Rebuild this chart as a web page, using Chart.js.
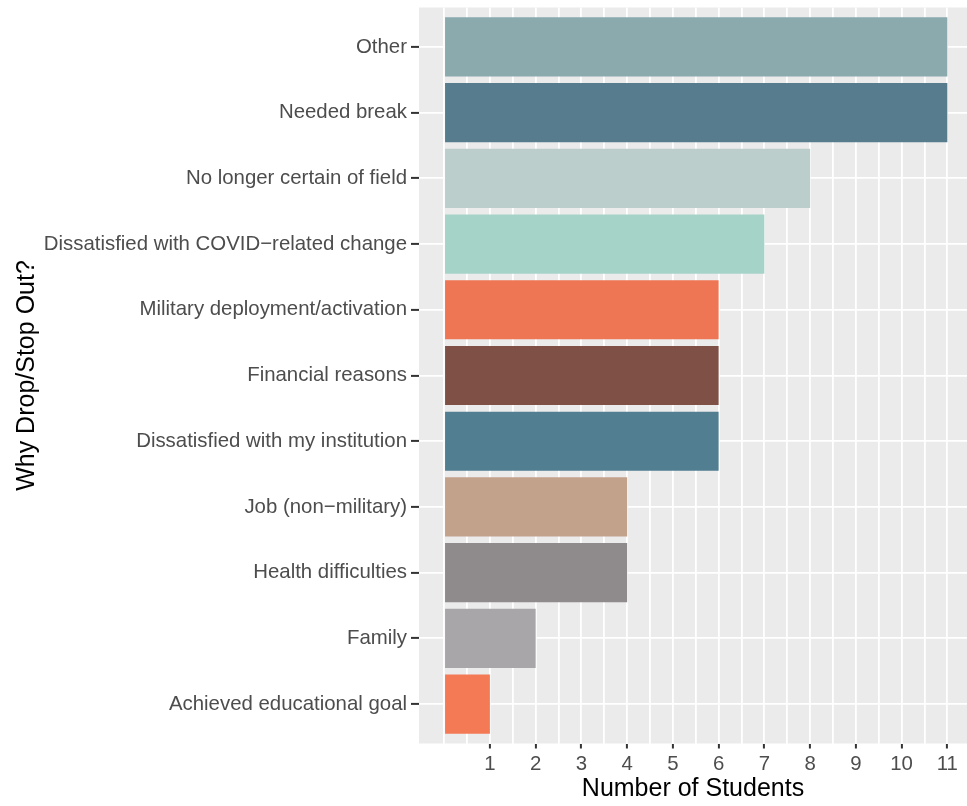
<!DOCTYPE html>
<html>
<head>
<meta charset="utf-8">
<script src="https://cdn.jsdelivr.net/npm/chart.js@4"></script>
<style>
  html, body { margin: 0; padding: 0; background: #fff; }
  #wrap { width: 967px; height: 806px; }
</style>
</head>
<body>
<div id="wrap"><canvas id="dropChart" width="967" height="806"></canvas></div>
<script>
// reasons, top to bottom as in the picture
var reasons = [
    "Other",
    "Needed break",
    "No longer certain of field",
    "Dissatisfied with COVID\u2212related change",
    "Military deployment/activation",
    "Financial reasons",
    "Dissatisfied with my institution",
    "Job (non\u2212military)",
    "Health difficulties",
    "Family",
    "Achieved educational goal"
];
var students = [11, 11, 8, 7, 6, 6, 6, 4, 4, 2, 1];
var barColors = [
    "#8AAAAE", "#577C8E", "#BBCECB", "#A6D3C8", "#EF7654", "#7F5146",
    "#517E90", "#C3A28C", "#8F8A8B", "#A8A6A8", "#F47A56"
];
var xTickLabels = [1, 2, 3, 4, 5, 6, 7, 8, 9, 10, 11];

const fontFam = "'Liberation Sans', Arial, Helvetica, sans-serif";

// grey ggplot-like panel behind the bars
const panelBg = {
    id: 'panelBg',
    beforeDraw(chart) {
        const a = chart.chartArea, c = chart.ctx;
        c.save();
        c.fillStyle = '#EBEBEB';
        c.fillRect(a.left, a.top, a.right - a.left, a.bottom - a.top);
        c.restore();
    }
};

const points = students.map((v, i) => ({ x: v, y: i }));

const ctx = document.getElementById('dropChart').getContext('2d');
const chart = new Chart(ctx, {
    type: 'bar',
    data: {
        datasets: [{
            data: points,
            backgroundColor: barColors,
            borderWidth: 0,
            barPercentage: 0.9,
            categoryPercentage: 1.0
        }]
    },
    plugins: [panelBg],
    options: {
        indexAxis: 'y',
        responsive: false,
        animation: false,
        layout: { padding: { top: 7.5, right: 0, left: 0, bottom: 0 } },
        plugins: { legend: { display: false }, tooltip: { enabled: false } },
        scales: {
            x: {
                type: 'linear',
                min: -0.55,
                max: 11.43,
                afterBuildTicks(scale) {
                    const t = [];
                    for (let v = 0; v <= 11; v += 0.5) t.push({ value: v });
                    scale.ticks = t;
                },
                afterFit(scale) {
                    scale.height = 62.5;
                    scale.paddingLeft = 0;
                    scale.paddingRight = 0;
                },
                border: { display: false },
                grid: {
                    color: '#FFFFFF',
                    lineWidth: 1.8,
                    tickLength: 5,
                    tickWidth: 2,
                    tickColor: (c) => (xTickLabels.indexOf(c.tick && c.tick.value) >= 0 ? '#333333' : 'rgba(0,0,0,0)')
                },
                ticks: {
                    autoSkip: false,
                    maxRotation: 0,
                    padding: 4,
                    color: '#4D4D4D',
                    font: { family: fontFam, size: 20.4 },
                    callback: (v) => (xTickLabels.indexOf(v) >= 0 ? String(v) : '')
                },
                title: {
                    display: true,
                    text: 'Number of Students',
                    color: '#000000',
                    font: { family: fontFam, size: 25 },
                    padding: { top: 0, bottom: 2 }
                }
            },
            y: {
                type: 'linear',
                reverse: true,
                offset: false,
                min: -0.6,
                max: reasons.length - 0.4,
                afterBuildTicks(scale) {
                    scale.ticks = reasons.map((r, i) => ({ value: i }));
                },
                afterFit(scale) {
                    scale.width = 419;
                    scale.paddingTop = 0;
                    scale.paddingBottom = 0;
                },
                border: { display: false },
                grid: {
                    offset: false,
                    color: '#FFFFFF',
                    lineWidth: 1.8,
                    tickLength: 8,
                    tickWidth: 2,
                    tickColor: '#333333'
                },
                ticks: {
                    autoSkip: false,
                    padding: 4,
                    color: '#4D4D4D',
                    font: { family: fontFam, size: 20.4 },
                    callback: (v) => reasons[v]
                },
                title: {
                    display: true,
                    text: 'Why Drop/Stop Out?',
                    color: '#000000',
                    font: { family: fontFam, size: 25 },
                    padding: { top: 12, bottom: 0 }
                }
            }
        }
    }
});
</script>
</body>
</html>
